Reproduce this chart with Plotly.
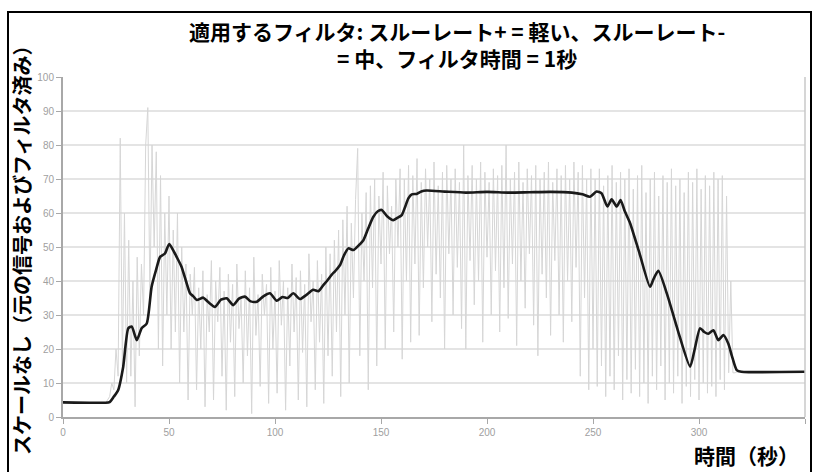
import plotly.graph_objects as go

# ---------------- data ----------------
# raw (unfiltered) signal, sampled every 1 s starting at t = 20 s
raw_start = 20
raw_values = [
    4, 5, 6, 10, 8, 20, 12, 82, 15, 60,
    10, 52, 12, 40, 3, 47, 18, 45, 30, 80,
    91, 35, 80, 50, 78, 20, 71, 15, 60, 30,
    65, 20, 55, 25, 60, 10, 50, 25, 45, 5,
    42, 30, 44, 8, 38, 20, 43, 3, 36, 25,
    46, 5, 40, 28, 44, 12, 37, 2, 42, 22,
    39, 6, 45, 26, 35, 10, 43, 18, 38, 1,
    47, 24, 36, 9, 42, 30, 39, 4, 44, 20,
    37, 7, 46, 27, 40, 2, 38, 15, 45, 25,
    41, 5, 43, 19, 39, 3, 48, 28, 40, 8,
    46, 22, 42, 4, 50, 18, 48, 12, 52, 25,
    55, 6, 58, 30, 62, 10, 57, 35, 64, 79,
    18, 60, 40, 66, 8, 68, 38, 70, 15, 65,
    45, 72, 20, 68, 48, 62, 25, 70, 50, 73,
    17, 70, 40, 74, 22, 71, 45, 76, 24, 69,
    38, 73, 50, 70, 28, 75, 42, 68, 35, 72,
    20, 74, 48, 70, 30, 73, 44, 69, 26, 80,
    20, 71, 46, 74, 33, 70, 40, 75, 22, 72,
    47, 69, 30, 73, 43, 71, 25, 74, 38, 80,
    29, 70, 45, 72, 21, 75, 40, 69, 32, 73,
    48, 71, 27, 74, 18, 70, 42, 72, 35, 75,
    24, 69, 46, 73, 30, 71, 22, 74, 40, 70,
    28, 75, 44, 72, 12, 74, 35, 70, 8, 73,
    20, 70, 9, 73, 15, 68, 6, 71, 12, 74,
    8, 69, 18, 72, 5, 70, 11, 73, 7, 67,
    14, 71, 6, 74, 10, 66, 4, 70, 12, 72,
    8, 65, 15, 71, 5, 69, 10, 73, 7, 68,
    12, 70, 4, 66, 9, 72, 6, 69, 11, 73,
    5, 67, 10, 71, 7, 68, 9, 72, 6, 70,
    11, 71, 8, 65, 13, 40, 13, 13, 13.3, 13.3,
]
raw_time = [raw_start + i for i in range(len(raw_values))]

# filtered signal (black)
filt_time = [0, 20, 22, 24, 26, 28.4, 30.8, 32.4, 34.8, 37.1, 39.5, 41.8, 44, 45.8, 48.1,
             50.1, 52, 53.6, 55.9, 58, 59.9, 61.5, 63.1, 66.2, 68.5, 71.7, 74.5, 77.2,
             80.3, 83, 85.8, 88.5, 91.4, 94.5, 97.6, 100.8, 103.5, 106, 108.6, 111.8,
             115, 118, 120.5, 122.8, 124.5, 126.7, 128.5, 130.7, 132.5, 134.6, 137,
             139.5, 141.7, 144, 146.4, 148.5, 150.3, 153, 155.8, 157.5, 159.8, 161.5,
             162.9, 164.5, 166.8, 169, 171.5, 180, 190, 200, 210, 220, 230, 240, 245,
             248.6, 251.7, 254, 256.8, 258.8, 261.2, 263, 265, 267.5, 272, 276.9,
             278.5, 280.8, 285, 290, 295.8, 298, 300.5, 302.5, 304.4, 306.8, 309.1,
             311.5, 313.8, 315.5, 317.8, 320, 324, 350]
filt_values = [4.3, 4.2, 4.4, 6, 7.9, 14.8, 26.1, 26.6, 22.6, 26.1, 27.5, 38.3, 43.5, 47.1,
               48.1, 50.9, 49, 47.1, 44.2, 40, 36.4, 35.5, 34.4, 35.1, 33.8, 32.4, 34.5,
               34.9, 32.9, 34.8, 35.4, 34, 33.9, 35.5, 36.4, 34.2, 35.3, 35, 36.4, 34.7,
               36, 37.4, 37, 38.8, 40, 41.8, 43, 44.7, 47.5, 49.6, 49.1, 50.5, 52, 55.5,
               58.9, 60.5, 60.9, 59, 57.9, 58.5, 59.4, 62, 64.3, 65.5, 65.6, 66.3, 66.6,
               66.3, 66, 66.2, 66, 66.1, 66.2, 66, 65.5, 64.8, 66.3, 65.8, 61.9, 64,
               61.9, 63.8, 60.5, 57, 48, 38.3, 40.5, 43, 36, 25.5, 14.8, 20, 26.1, 25,
               24.5, 25.5, 22.6, 24.1, 21.6, 18, 13.8, 13.3, 13.2, 13.3]

x_ticks = [0, 50, 100, 150, 200, 250, 300, 350]
y_ticks = [0, 10, 20, 30, 40, 50, 60, 70, 80, 90, 100]

title_line1 = "適用するフィルタ: スルーレート+ = 軽い、スルーレート-"
title_line2 = "= 中、フィルタ時間 = 1秒"
y_title = "スケールなし（元の信号およびフィルタ済み）"
x_title = "時間（秒）"

# ---------------- figure ----------------
CJK = "Noto Sans CJK JP"
TICKFONT = "Liberation Sans Narrow, Liberation Sans, Arial"

fig = go.Figure()
fig.add_trace(go.Scatter(
    x=[0, raw_start], y=[4.3, raw_values[0]], mode="lines",
    line=dict(color="#d6d6d6", width=1), hoverinfo="skip", showlegend=False))
fig.add_trace(go.Scatter(
    x=raw_time, y=raw_values, mode="lines",
    line=dict(color="#d6d6d6", width=1), showlegend=False))
fig.add_trace(go.Scatter(
    x=filt_time, y=filt_values, mode="lines",
    line=dict(color="#1a1a1a", width=2.6, shape="spline", smoothing=0.6),
    showlegend=False))

L, R, T, B = 63, 8, 77, 55
W, H = 813, 472
pw, ph = W - L - R, H - T - B

def px(xp):
    return (xp - L) / pw

def py(yp):
    return (H - B - yp) / ph

fig.update_layout(
    width=W, height=H,
    margin=dict(l=L, r=R, t=T, b=B),
    paper_bgcolor="white", plot_bgcolor="white",
    xaxis=dict(range=[0, 350], tickvals=x_ticks, showgrid=False, zeroline=False,
               showline=True, linecolor="#a8a8a8", linewidth=2, mirror=False,
               ticks="outside", ticklen=5, tickcolor="#a8a8a8", tickwidth=1,
               tickfont=dict(family=TICKFONT, size=10, color="#a0a0a0")),
    yaxis=dict(range=[0, 100], tickvals=y_ticks, showgrid=True, gridcolor="#e4e4e4",
               gridwidth=1.5, zeroline=False, showline=True, linecolor="#a8a8a8",
               linewidth=2, ticks="outside", ticklen=5, tickcolor="#a8a8a8",
               tickfont=dict(family=TICKFONT, size=10, color="#a0a0a0")),
    showlegend=False,
)

# right border of the plot area
fig.add_shape(type="line", xref="paper", yref="paper", x0=1, x1=1, y0=0, y1=1,
              line=dict(color="#c8c8c8", width=1.5))
# outer black frame
fig.add_shape(type="rect", xref="paper", yref="paper",
              x0=px(8), x1=px(811), y0=py(490), y1=py(12),
              line=dict(color="black", width=2), layer="above")

fig.add_annotation(text="<b>" + title_line1 + "<br>" + title_line2 + "</b>",
                   xref="paper", yref="paper",
                   x=px(457), y=py(45), xanchor="center", yanchor="middle",
                   showarrow=False, borderpad=0,
                   font=dict(family=CJK, size=21, color="black"))
fig.add_annotation(text="<b>" + y_title + "</b>", textangle=-90,
                   xref="paper", yref="paper", x=px(21), y=py(245),
                   xanchor="center", yanchor="middle", showarrow=False,
                   font=dict(family=CJK, size=20, color="black"))
fig.add_annotation(text="<b>" + x_title + "</b>",
                   xref="paper", yref="paper", x=px(801), y=py(455),
                   xanchor="right", yanchor="middle", showarrow=False,
                   font=dict(family=CJK, size=21, color="black"))

fig.write_html("out.html", config={"displayModeBar": False},
               post_script="document.body.style.margin='0px';")
